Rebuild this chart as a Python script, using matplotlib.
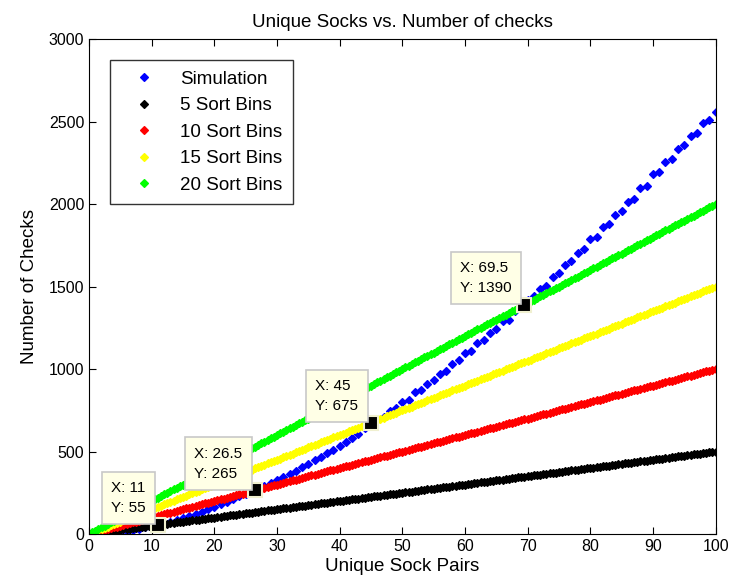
import numpy as np
import matplotlib.pyplot as plt

# number of unique sock pairs (x axis) for the sort-bin curves
pairs = np.arange(0, 100.5, 0.5)
# checks per pair for each number of sort bins (read from the data tips)
bins = [5, 10, 15, 20]
bin_labels = ['5 Sort Bins', '10 Sort Bins', '15 Sort Bins', '20 Sort Bins']
bin_colors = ['#000000', '#ff0000', '#ffff00', '#00ff00']

# simulated number of checks
sim_pairs = list(range(0, 101))
sim_checks = [0, 1, 3, 6, 10, 15, 20, 26, 33, 40,
              47, 55, 63, 73, 84, 96, 108, 121, 134, 150,
              166, 180, 196, 212, 228, 244, 258, 276, 293, 310,
              328, 347, 366, 384, 405, 426, 446, 466, 488, 510,
              532, 556, 580, 606, 640, 672, 700, 712, 748, 762,
              800, 815, 858, 872, 912, 932, 972, 985, 1030, 1052,
              1098, 1108, 1158, 1176, 1218, 1240, 1288, 1300, 1352, 1372,
              1418, 1445, 1486, 1505, 1558, 1580, 1630, 1652, 1706, 1728,
              1788, 1800, 1860, 1880, 1936, 1958, 2015, 2032, 2096, 2112,
              2180, 2196, 2255, 2272, 2336, 2356, 2415, 2432, 2492, 2508,
              2560]

# data tips
tip_x = [11, 26.5, 45, 69.5]
tip_y = [55, 265, 675, 1390]
tip_text = ['X: 11\nY: 55', 'X: 26.5\nY: 265', 'X: 45\nY: 675', 'X: 69.5\nY: 1390']

plt.rcParams['font.family'] = ['Liberation Sans', 'DejaVu Sans']
plt.rcParams['font.size'] = 13

fig = plt.figure(figsize=(7.32, 5.84), dpi=100)
ax = fig.add_axes([0.1216, 0.0856, 0.856, 0.8476])

mk = dict(linestyle='none', marker='D', markersize=4.3, markeredgewidth=0.9)
ax.plot(sim_pairs, sim_checks, color='#0000ff', label='Simulation', **mk)
for b, lab, c in zip(bins, bin_labels, bin_colors):
    ax.plot(pairs, pairs * b, color=c, label=lab, **mk)

for x, y, t in zip(tip_x, tip_y, tip_text):
    ax.plot(x, y, marker='s', markersize=10, color='black',
            markeredgecolor='#f0f0d0', markeredgewidth=1.5, zorder=5)
    ax.annotate(t, (x, y), xytext=(-9, 7), textcoords='offset points',
                ha='right', va='bottom', multialignment='left',
                fontsize=11, linespacing=1.55,
                bbox=dict(boxstyle='square,pad=0.6', fc='#ffffe6', ec='#c8c8c8', lw=1.2),
                zorder=6)

ax.set_xlim(0, 100)
ax.set_ylim(0, 3000)
ax.set_xticks(range(0, 101, 10))
ax.set_yticks(range(0, 3001, 500))
ax.tick_params(direction='in', top=True, right=True, length=5, labelsize=11.5)
ax.set_xlabel('Unique Sock Pairs', fontsize=13.5, labelpad=3)
ax.set_ylabel('Number of Checks', fontsize=13.5, labelpad=8)
ax.set_title('Unique Socks vs. Number of checks', fontsize=13.5, pad=9)

leg = ax.legend(loc='upper left', bbox_to_anchor=(0.033, 0.957), borderaxespad=0,
                fancybox=False, edgecolor='black', fontsize=13.5, handlelength=2.6,
                handletextpad=0.6, labelspacing=0.5, borderpad=0.55)
leg.get_frame().set_linewidth(1)

plt.savefig('out.png')
